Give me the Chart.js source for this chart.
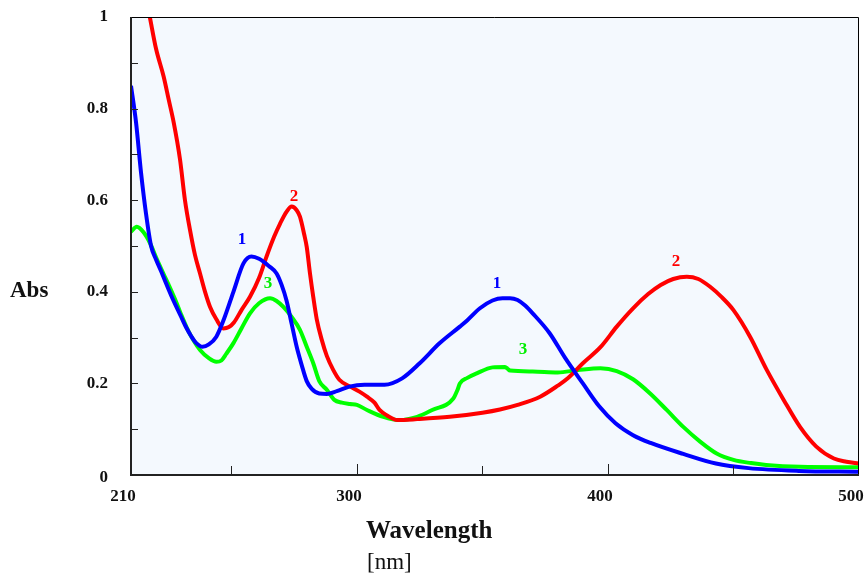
<!DOCTYPE html>
<html>
<head>
<meta charset="utf-8">
<script src="https://cdn.jsdelivr.net/npm/chart.js@4"></script>
<style>
  html, body { margin: 0; padding: 0; background: #ffffff; }
  #chart { display: block; }
</style>
</head>
<body>
<canvas id="chart" width="867" height="578"></canvas>
<script>
// data

const blueNm = [210, 212, 214, 216, 218, 220, 222, 224, 226, 228, 230, 232, 234, 236, 238.5, 241, 244, 247, 250.8, 254.8, 258, 261, 265, 268, 270, 272, 274, 276, 278, 280, 282, 285, 288, 292, 297, 303, 311, 318, 325, 333, 341, 344, 349, 354, 358, 361, 364, 367, 370, 376.7, 383, 390, 396.5, 403, 410, 417, 430, 443, 456, 476, 500];
const blueAbs = [0.85, 0.77, 0.66, 0.57, 0.50, 0.47, 0.445, 0.418, 0.392, 0.368, 0.345, 0.322, 0.303, 0.288, 0.28, 0.285, 0.302, 0.34, 0.40, 0.462, 0.477, 0.472, 0.456, 0.44, 0.415, 0.38, 0.33, 0.28, 0.24, 0.205, 0.188, 0.178, 0.177, 0.183, 0.193, 0.197, 0.197, 0.211, 0.244, 0.288, 0.324, 0.338, 0.364, 0.381, 0.386, 0.386, 0.382, 0.37, 0.353, 0.31, 0.255, 0.2, 0.15, 0.113, 0.087, 0.07, 0.046, 0.025, 0.015, 0.009, 0.007];

const redNm = [217.5, 220, 223, 225, 227, 229.5, 231.5, 233.5, 235.5, 237.5, 239.5, 241.5, 244, 246.8, 249, 251, 254, 257.4, 261, 264, 267, 269.4, 272, 274, 276, 277.3, 279, 280, 281.3, 282.6, 284, 286, 288, 290.6, 293, 297.3, 301, 304, 307, 309, 312, 316, 324, 337, 350, 357, 364, 373, 380, 384, 390, 397, 403.5, 410, 416, 421, 426, 431.4, 436, 440.7, 445, 450, 456.6, 463.3, 470, 476.5, 483, 490, 495, 500];
const redAbs = [1.0, 0.93, 0.87, 0.82, 0.77, 0.69, 0.60, 0.535, 0.48, 0.44, 0.40, 0.367, 0.34, 0.32, 0.323, 0.333, 0.36, 0.389, 0.43, 0.477, 0.52, 0.549, 0.575, 0.586, 0.578, 0.564, 0.525, 0.498, 0.44, 0.389, 0.34, 0.295, 0.26, 0.229, 0.208, 0.193, 0.182, 0.171, 0.158, 0.142, 0.13, 0.12, 0.122, 0.127, 0.136, 0.143, 0.153, 0.171, 0.195, 0.211, 0.244, 0.279, 0.324, 0.364, 0.395, 0.415, 0.428, 0.433, 0.428, 0.411, 0.39, 0.36, 0.302, 0.229, 0.164, 0.105, 0.062, 0.036, 0.029, 0.025];

const greenNm = [210, 212.3, 215, 217.6, 220, 222.9, 225, 228.2, 230, 232.2, 235, 237.5, 241, 244, 246, 248, 250.8, 254, 257.4, 261, 265.4, 268, 270.7, 274, 277.3, 280, 282.6, 285, 288, 291, 294, 297.3, 300, 304, 310.5, 317, 324, 330, 338.4, 340, 341, 344, 347.7, 354, 359, 360, 361, 370, 380, 388, 397, 403.5, 410, 416.8, 423.4, 430, 436.7, 443.3, 450, 457, 463, 476.5, 500];
const greenAbs = [0.531, 0.542, 0.53, 0.506, 0.475, 0.44, 0.415, 0.375, 0.35, 0.322, 0.293, 0.273, 0.255, 0.247, 0.25, 0.265, 0.288, 0.32, 0.353, 0.375, 0.386, 0.38, 0.367, 0.345, 0.317, 0.28, 0.244, 0.205, 0.186, 0.164, 0.158, 0.155, 0.153, 0.142, 0.127, 0.12, 0.127, 0.142, 0.167, 0.185, 0.2, 0.212, 0.222, 0.235, 0.236, 0.232, 0.228, 0.226, 0.224, 0.229, 0.233, 0.227, 0.209, 0.178, 0.142, 0.105, 0.073, 0.047, 0.033, 0.026, 0.022, 0.018, 0.017];

const xTickValues = [210, 250, 300, 350, 400, 450, 500];
const xTickLabels = ['210', '', '300', '', '400', '', '500'];
const yTickValues = [0, 0.1, 0.2, 0.3, 0.4, 0.5, 0.6, 0.7, 0.8, 0.9, 1];
const yTickLabels = ['0', '', '0.2', '', '0.4', '', '0.6', '', '0.8', '', '1'];

// curve numbers: [text, nm, abs, colour]
const curveNotes = [
    ['1', 254.2, 0.513, '#0000ff'],
    ['1', 355.8, 0.417, '#0000ff'],
    ['2', 274.9, 0.607, '#ff0000'],
    ['2', 427.1, 0.465, '#ff0000'],
    ['3', 264.6, 0.417, '#00ee00'],
    ['3', 366.2, 0.273, '#00ee00']
];

function pts(xs, ys) {
    return xs.map((x, i) => ({x: x, y: ys[i]}));
}

const serif = '"Liberation Serif", "Times New Roman", serif';

// plugin: plot background, frame, ticks, labels

const decor = {
    id: 'decor',
    beforeDatasetsDraw(chart) {
        const {ctx, chartArea: a} = chart;
        ctx.save();
        ctx.fillStyle = '#f4f9fe';
        ctx.fillRect(a.left, a.top, a.right - a.left, a.bottom - a.top);
        ctx.restore();
    },
    afterDatasetsDraw(chart) {
        const {ctx, chartArea: a, scales} = chart;
        const xs = scales.x, ys = scales.y;
        ctx.save();

        // frame
        ctx.strokeStyle = '#000';
        ctx.lineWidth = 1;
        ctx.beginPath();
        ctx.moveTo(a.left, a.top + 0.5);
        ctx.lineTo(a.right - 0.5, a.top + 0.5);
        ctx.lineTo(a.right - 0.5, a.bottom);
        ctx.stroke();
        ctx.strokeStyle = '#222';
        ctx.lineWidth = 2;
        ctx.beginPath();
        ctx.moveTo(a.left, a.top);
        ctx.lineTo(a.left, a.bottom);
        ctx.lineTo(a.right, a.bottom);
        ctx.stroke();

        // ticks
        ctx.lineWidth = 1;
        ctx.strokeStyle = '#222';
        xTickValues.forEach((v, i) => {
            if (i == 0 || i == xTickValues.length - 1) return;
            const px = Math.round(xs.getPixelForValue(v)) + 0.5;
            ctx.beginPath();
            ctx.moveTo(px, a.bottom);
            ctx.lineTo(px, a.bottom - (xTickLabels[i] ? 11 : 9));
            ctx.stroke();
        });
        yTickValues.forEach((v, i) => {
            if (i == 0 || i == yTickValues.length - 1) return;
            const py = Math.round(ys.getPixelForValue(v)) + 0.5;
            ctx.beginPath();
            ctx.moveTo(a.left, py);
            ctx.lineTo(a.left + 7, py);
            ctx.stroke();
        });

        // tick labels
        ctx.fillStyle = '#111';
        ctx.font = 'bold 17px ' + serif;
        ctx.textBaseline = 'middle';
        ctx.textAlign = 'center';
        xTickValues.forEach((v, i) => {
            if (!xTickLabels[i]) return;
            ctx.fillText(xTickLabels[i], xs.getPixelForValue(v) - 8, a.bottom + 22);
        });
        ctx.textAlign = 'right';
        yTickValues.forEach((v, i) => {
            if (!yTickLabels[i]) return;
            ctx.fillText(yTickLabels[i], 108, ys.getPixelForValue(v) + (v == 0 ? 3 : 0));
        });

        // axis titles
        ctx.textAlign = 'left';
        ctx.font = 'bold 23px ' + serif;
        ctx.fillText('Abs', 10, ys.getPixelForValue(0.4) - 1);
        ctx.font = 'bold 25px ' + serif;
        ctx.fillText('Wavelength', 366, 532);
        ctx.font = '23px ' + serif;
        ctx.fillText('[nm]', 367, 563);

        // curve numbers
        ctx.textAlign = 'center';
        ctx.font = 'bold 17px ' + serif;
        curveNotes.forEach(n => {
            ctx.fillStyle = n[3];
            ctx.fillText(n[0], xs.getPixelForValue(n[1]), ys.getPixelForValue(n[2]));
        });
        ctx.restore();
    }
};

// chart

const ctx = document.getElementById('chart').getContext('2d');

const spectra = new Chart(ctx, {
    type: 'line',
    data: {
        datasets: [
            {label: '1', data: pts(blueNm, blueAbs), borderColor: '#0000ff'},
            {label: '2', data: pts(redNm, redAbs), borderColor: '#ff0000'},
            {label: '3', data: pts(greenNm, greenAbs), borderColor: '#00ff00'}
        ]
    },
    options: {
        responsive: false,
        animation: false,
        layout: {padding: {top: 17, right: 8, left: 0, bottom: 0}},
        elements: {
            line: {borderWidth: 4, cubicInterpolationMode: 'monotone', fill: false},
            point: {radius: 0}
        },
        plugins: {
            legend: {display: false},
            tooltip: {enabled: false}
        },
        scales: {
            x: {
                type: 'linear',
                min: 210,
                max: 500,
                grid: {display: false},
                border: {display: false},
                ticks: {display: false},
                afterFit: (s) => { s.height = 103; }
            },
            y: {
                min: 0,
                max: 1,
                grid: {display: false},
                border: {display: false},
                ticks: {display: false},
                afterFit: (s) => { s.width = 131; }
            }
        }
    },
    plugins: [decor]
});
</script>
</body>
</html>
